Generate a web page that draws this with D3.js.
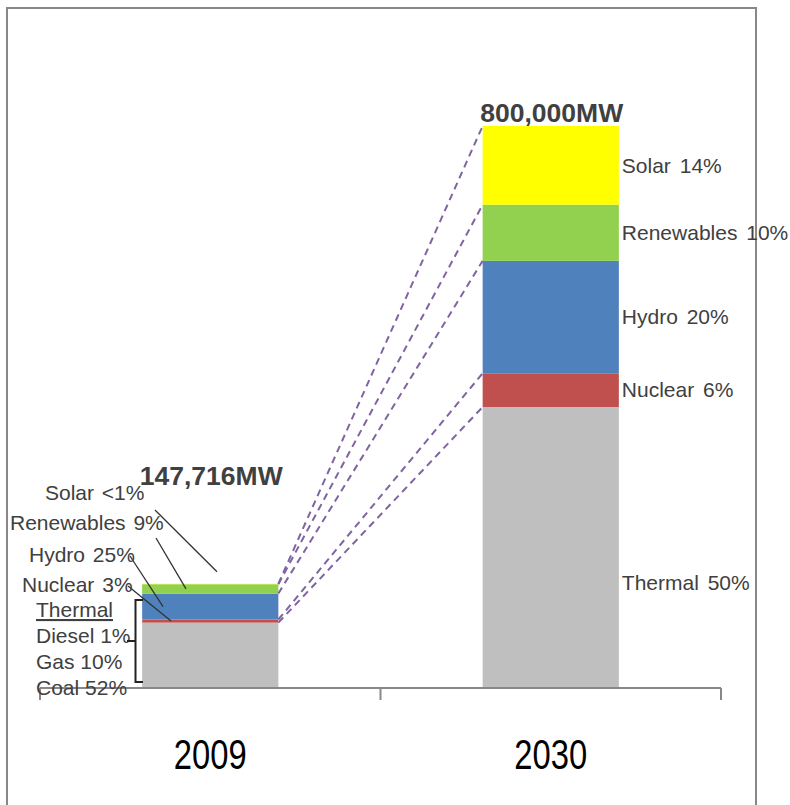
<!DOCTYPE html>
<html>
<head>
<meta charset="utf-8">
<script src="https://cdn.jsdelivr.net/npm/d3@7"></script>
<style>
  html, body { margin: 0; padding: 0; background: #fff; }
  svg { display: block; }
  text { font-family: "Liberation Sans", Arial, sans-serif; }
</style>
</head>
<body>
<svg id="chart" width="790" height="805"></svg>
<script>
// Installed capacity by source, 2009 vs 2030 target
const years = ["2009", "2030"];
const totalsMW = [147716, 800000];
const sources = ["Thermal", "Nuclear", "Hydro", "Renewables", "Solar"];
const share2009 = [63, 3, 25, 9, 0.5];   // Solar stated as "<1%"
const share2030 = [50, 6, 20, 10, 14];
const thermal2009Parts = ["Diesel 1%", "Gas 10%", "Coal 52%"];
const labels2009 = ["Coal 52%", "Nuclear 3%", "Hydro 25%", "Renewables 9%", "Solar <1%"];
const labels2030 = ["Thermal 50%", "Nuclear 6%", "Hydro 20%", "Renewables 10%", "Solar 14%"];
const colors = ["#BFBFBF", "#C0504D", "#4F81BD", "#92D050", "#FFFF00"];

const svg = d3.select("#chart");
const W = 790, H = 805;
const baseY = 688;
const labelSize = "21px";

// outer frame
svg.append("rect")
  .attr("x", 7).attr("y", 8).attr("width", 749).attr("height", H + 10)
  .attr("fill", "none").attr("stroke", "#888").attr("stroke-width", 2);

const x = d3.scaleBand().domain(years).range([40, 721])
  .paddingInner(0.6).paddingOuter(0.3);
const y = d3.scaleLinear().domain([0, 800000]).range([baseY, 126]);

// stacked segments in MW
const shares = [share2009, share2030];
const stacks = years.map((yr, i) => {
  let acc = 0;
  return sources.map((s, j) => {
    const v = totalsMW[i] * shares[i][j] / 100;
    const seg = { year: yr, source: s, y0: acc, y1: acc + v, color: colors[j] };
    acc += v;
    return seg;
  });
});

const barG = svg.append("g");
stacks.forEach(stack => {
  barG.selectAll(null).data(stack).enter().append("rect")
    .attr("x", d => x(d.year))
    .attr("width", x.bandwidth())
    .attr("y", d => y(d.y1))
    .attr("height", d => Math.max(0, y(d.y0) - y(d.y1)))
    .attr("fill", d => d.color);
});

// category axis: baseline with ticks at band boundaries
const axisStart = x.range()[0], axisEnd = x.range()[1];
const tickXs = d3.range(years.length + 1).map(i => axisStart + i * (axisEnd - axisStart) / years.length);
const axisG = svg.append("g");
axisG.append("line")
  .attr("x1", axisStart).attr("x2", axisEnd).attr("y1", baseY).attr("y2", baseY)
  .attr("stroke", "#888").attr("stroke-width", 2);
axisG.selectAll("line.tick").data(tickXs).enter().append("line")
  .attr("class", "tick")
  .attr("x1", d => d).attr("x2", d => d)
  .attr("y1", baseY).attr("y2", baseY + 12)
  .attr("stroke", "#888").attr("stroke-width", 2);
// condensed year labels
axisG.selectAll("text.year").data(years).enter().append("text")
  .attr("class", "year")
  .attr("transform", d => `translate(${x(d) + x.bandwidth() / 2},769) scale(0.78,1)`)
  .attr("text-anchor", "middle")
  .style("font-size", "42px")
  .attr("fill", "#000")
  .text(d => d);

// dashed connectors between matching segment tops
const connG = svg.append("g");
const left = stacks[0], right = stacks[1];
sources.forEach((s, j) => {
  connG.append("line")
    .attr("x1", x(years[0]) + x.bandwidth())
    .attr("y1", y(left[j].y1))
    .attr("x2", x(years[1]))
    .attr("y2", y(right[j].y1))
    .attr("stroke", "#8064A2")
    .attr("stroke-width", 2)
    .attr("stroke-dasharray", "7,5");
});

// totals
const fmt = d3.format(",");
svg.selectAll("text.total").data(years).enter().append("text")
  .attr("class", "total")
  .attr("x", d => x(d) + x.bandwidth() / 2 + 1)
  .attr("y", (d, i) => i === 0 ? 485 : y(totalsMW[i]) - 4)
  .attr("text-anchor", "middle")
  .style("font-size", "26.5px")
  .style("font-weight", "bold")
  .attr("fill", "#404040")
  .text((d, i) => fmt(totalsMW[i]) + "MW");

// 2030 segment labels, right of the bar
const rx = x(years[1]) + x.bandwidth() + 3;
svg.selectAll("text.r").data(right).enter().append("text")
  .attr("class", "r")
  .attr("x", rx)
  .attr("y", d => d.source === "Thermal" ? 583 : y((d.y0 + d.y1) / 2))
  .attr("dy", "0.35em")
  .style("font-size", labelSize)
  .style("word-spacing", "3px")
  .attr("fill", "#404040")
  .text((d, j) => labels2030[j]);

// 2009 labels, left of the bar, with leader lines
const leftLabels = [
  { i: 4, text: labels2009[4], tx: 45, ty: 500, lx1: 155, ly1: 510, lx2: 217, off: -12 },
  { i: 3, text: labels2009[3], tx: 10, ty: 530, lx1: 156, ly1: 538, lx2: 186, off: 0 },
  { i: 2, text: labels2009[2], tx: 29, ty: 562, lx1: 130, ly1: 556, lx2: 163, off: 0 },
  { i: 1, text: labels2009[1], tx: 22, ty: 592, lx1: 128, ly1: 586, lx2: 171, off: 0 }
];
leftLabels.forEach(d => {
  const seg = left[d.i];
  const endY = d.off < 0 ? y(seg.y1) + d.off : y((seg.y0 + seg.y1) / 2);
  svg.append("line")
    .attr("x1", d.lx1).attr("y1", d.ly1)
    .attr("x2", d.lx2).attr("y2", endY)
    .attr("stroke", "#333").attr("stroke-width", 1.3);
  svg.append("text")
    .attr("x", d.tx).attr("y", d.ty)
    .style("font-size", labelSize)
    .style("word-spacing", "2px")
    .attr("fill", "#404040")
    .text(d.text);
});

// thermal breakdown
svg.append("text")
  .attr("x", 36).attr("y", 617)
  .style("font-size", labelSize)
  .style("text-decoration", "underline")
  .attr("fill", "#404040")
  .text(sources[0]);
svg.selectAll("text.part").data(thermal2009Parts).enter().append("text")
  .attr("class", "part")
  .attr("x", 36)
  .attr("y", (d, i) => 643 + i * 26)
  .style("font-size", labelSize)
  .attr("fill", "#404040")
  .text(d => d);

// brace grouping the thermal parts
svg.append("path")
  .attr("d", "M143,600 H135.5 V682 H143 M135.5,641 H127")
  .attr("fill", "none").attr("stroke", "#222").attr("stroke-width", 2);
</script>
</body>
</html>
